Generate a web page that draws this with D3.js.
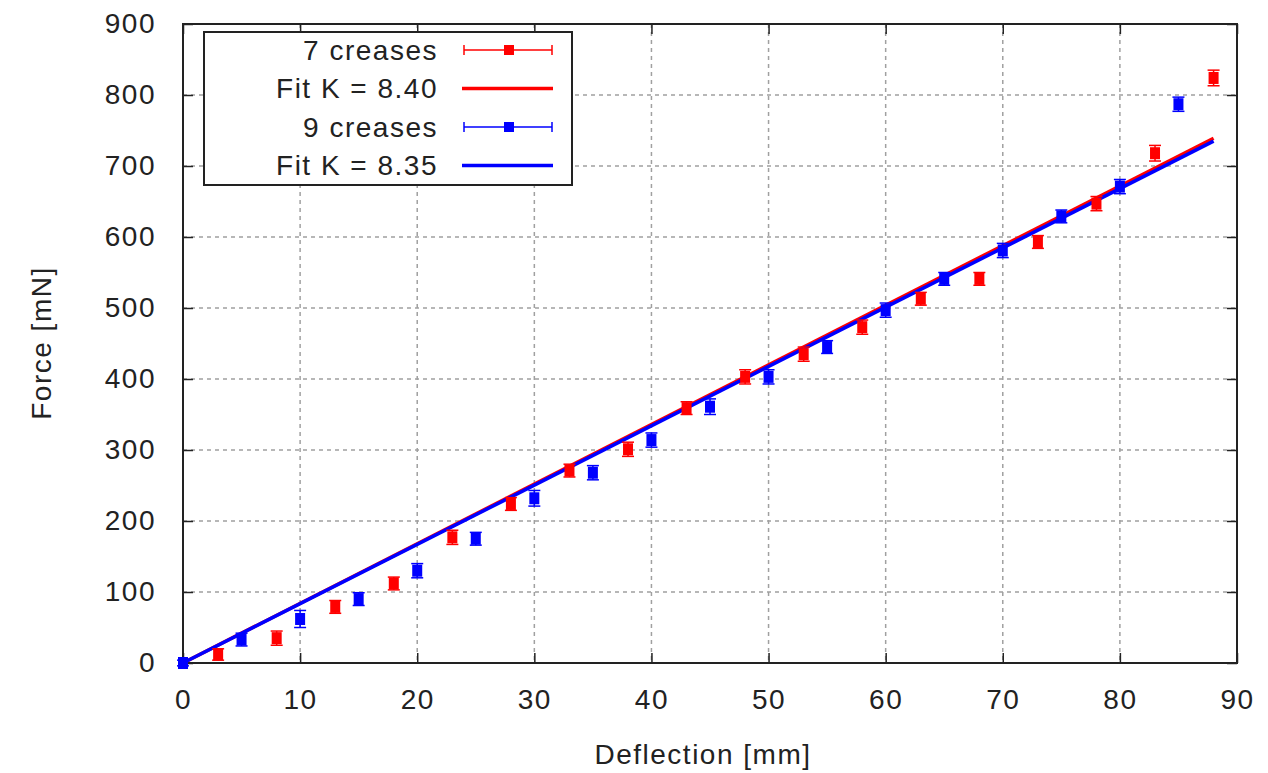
<!DOCTYPE html>
<html>
<head>
<meta charset="utf-8">
<script src="https://cdn.jsdelivr.net/npm/d3@7"></script>
<style>
  body { margin: 0; background: #fff; }
  text { font-family: "Liberation Sans", Arial, sans-serif; fill: #222; letter-spacing: 1.5px; }
</style>
</head>
<body>
<svg class="chart" width="1268" height="773"></svg>
<script>
var xTicks = [0, 10, 20, 30, 40, 50, 60, 70, 80, 90];
var yTicks = [0, 100, 200, 300, 400, 500, 600, 700, 800, 900];

// 7 creases
var redX = [3, 8, 13, 18, 23, 28, 33, 38, 43, 48, 53, 58, 63, 68, 73, 78, 83, 88];
var redY = [12, 35, 79, 112, 177, 224, 271, 301, 359, 403, 435, 473, 513, 541, 593, 647, 718, 824];
var redErr = [8, 10, 9, 9, 10, 9, 9, 10, 9, 10, 10, 10, 9, 9, 9, 10, 11, 11];

// 9 creases
var blueX = [0, 5, 10, 15, 20, 25, 30, 35, 40, 45, 50, 55, 60, 65, 70, 75, 80, 85];
var blueY = [0, 33, 62, 90, 130, 175, 232, 268, 314, 361, 403, 445, 497, 541, 581, 629, 671, 787];
var blueErr = [4, 9, 12, 9, 10, 9, 11, 10, 10, 11, 10, 9, 10, 9, 10, 9, 10, 10];

// fitted lines (end points)
var fitX = [0, 88];
var redFit = [0, 739];
var blueFit = [0, 735];

var legendLabels = ["7 creases", "Fit K = 8.40", "9 creases", "Fit K = 8.35"];

var fontSize = 28;
var svg = d3.select(".chart");
var margin = {top: 24, right: 31, bottom: 110, left: 183};
var w = 1268 - margin.left - margin.right;
var h = 773 - margin.top - margin.bottom;

var g = svg.append("g").attr("transform", "translate(" + margin.left + "," + margin.top + ")");

var xScale = d3.scaleLinear().domain([0, 90]).range([0, w]);
var yScale = d3.scaleLinear().domain([0, 900]).range([h, 0]);

// grid
g.selectAll(".gx").data(xTicks.slice(1, -1)).enter().append("line")
    .attr("x1", function(d) { return xScale(d); }).attr("x2", function(d) { return xScale(d); })
    .attr("y1", 0).attr("y2", h)
    .attr("stroke", "#a0a0a0").attr("stroke-width", 1.5).attr("stroke-dasharray", "4,4");
g.selectAll(".gy").data(yTicks.slice(1, -1)).enter().append("line")
    .attr("y1", function(d) { return yScale(d); }).attr("y2", function(d) { return yScale(d); })
    .attr("x1", 0).attr("x2", w)
    .attr("stroke", "#a0a0a0").attr("stroke-width", 1.5).attr("stroke-dasharray", "4,4");

// axes, ticks inward on all sides
function styleAxis(sel) {
    sel.select(".domain").remove();
    sel.selectAll("line").attr("stroke", "#222").attr("stroke-width", 1.5);
    sel.selectAll("text").attr("font-size", fontSize).attr("fill", "#222");
}
g.append("g").attr("transform", "translate(0," + h + ")")
    .call(d3.axisBottom(xScale).tickValues(xTicks).tickSize(-10).tickPadding(26))
    .call(styleAxis);
g.append("g")
    .call(d3.axisTop(xScale).tickValues(xTicks).tickSize(-10).tickFormat(""))
    .call(styleAxis);
g.append("g")
    .call(d3.axisLeft(yScale).tickValues(yTicks).tickSize(-10).tickPadding(27))
    .call(styleAxis);
g.append("g").attr("transform", "translate(" + w + ",0)")
    .call(d3.axisRight(yScale).tickValues(yTicks).tickSize(-10).tickFormat(""))
    .call(styleAxis);

g.append("rect").attr("width", w).attr("height", h)
    .attr("fill", "none").attr("stroke", "#222").attr("stroke-width", 2);

// fit lines
var line = d3.line().x(function(d) { return xScale(d[0]); }).y(function(d) { return yScale(d[1]); });
g.append("path").datum(d3.zip(fitX, redFit)).attr("d", line)
    .attr("fill", "none").attr("stroke", "#ff0000").attr("stroke-width", 3.5);
g.append("path").datum(d3.zip(fitX, blueFit)).attr("d", line)
    .attr("fill", "none").attr("stroke", "#0000ff").attr("stroke-width", 3.5);

// points with error bars
function drawPoints(xs, ys, es, color) {
    var data = d3.zip(xs, ys, es);
    var pg = g.append("g").attr("stroke", color).attr("stroke-width", 1.5);
    pg.selectAll(".v").data(data).enter().append("line")
        .attr("x1", function(d) { return xScale(d[0]); }).attr("x2", function(d) { return xScale(d[0]); })
        .attr("y1", function(d) { return yScale(d[1] - d[2]); }).attr("y2", function(d) { return yScale(d[1] + d[2]); });
    [-1, 1].forEach(function(s) {
        pg.selectAll(".c" + s).data(data).enter().append("line")
            .attr("x1", function(d) { return xScale(d[0]) - 6; }).attr("x2", function(d) { return xScale(d[0]) + 6; })
            .attr("y1", function(d) { return yScale(d[1] + s * d[2]); })
            .attr("y2", function(d) { return yScale(d[1] + s * d[2]); });
    });
    g.append("g").selectAll("rect").data(data).enter().append("rect")
        .attr("x", function(d) { return xScale(d[0]) - 5; })
        .attr("y", function(d) { return yScale(d[1]) - 6; })
        .attr("width", 10).attr("height", 12)
        .attr("fill", color);
}
drawPoints(redX, redY, redErr, "#ff0000");
drawPoints(blueX, blueY, blueErr, "#0000ff");

// legend
var lg = svg.append("g").attr("transform", "translate(204,32)");
lg.append("rect").attr("width", 368).attr("height", 153)
    .attr("fill", "#fff").attr("stroke", "#222").attr("stroke-width", 2);
var colors = ["#ff0000", "#ff0000", "#0000ff", "#0000ff"];
legendLabels.forEach(function(lab, i) {
    var y = 18 + i * 38.5;
    lg.append("text").attr("x", 234).attr("y", y).attr("dy", "0.35em")
        .attr("text-anchor", "end").attr("font-size", fontSize).text(lab);
    if (i % 2 === 0) {
        lg.append("line").attr("x1", 260).attr("x2", 348).attr("y1", y).attr("y2", y)
            .attr("stroke", colors[i]).attr("stroke-width", 1.5);
        [260, 348].forEach(function(cx) {
            lg.append("line").attr("x1", cx).attr("x2", cx).attr("y1", y - 5).attr("y2", y + 5)
                .attr("stroke", colors[i]).attr("stroke-width", 1.5);
        });
        lg.append("rect").attr("x", 300).attr("y", y - 5).attr("width", 10).attr("height", 10)
            .attr("fill", colors[i]);
    } else {
        lg.append("line").attr("x1", 258).attr("x2", 349).attr("y1", y).attr("y2", y)
            .attr("stroke", colors[i]).attr("stroke-width", 3.5);
    }
});

// axis titles
svg.append("text").attr("x", 703).attr("y", 764).attr("text-anchor", "middle")
    .attr("font-size", fontSize).text("Deflection [mm]");
svg.append("text").attr("transform", "translate(51,343) rotate(-90)")
    .attr("text-anchor", "middle").attr("font-size", fontSize).text("Force [mN]");
</script>
</body>
</html>
